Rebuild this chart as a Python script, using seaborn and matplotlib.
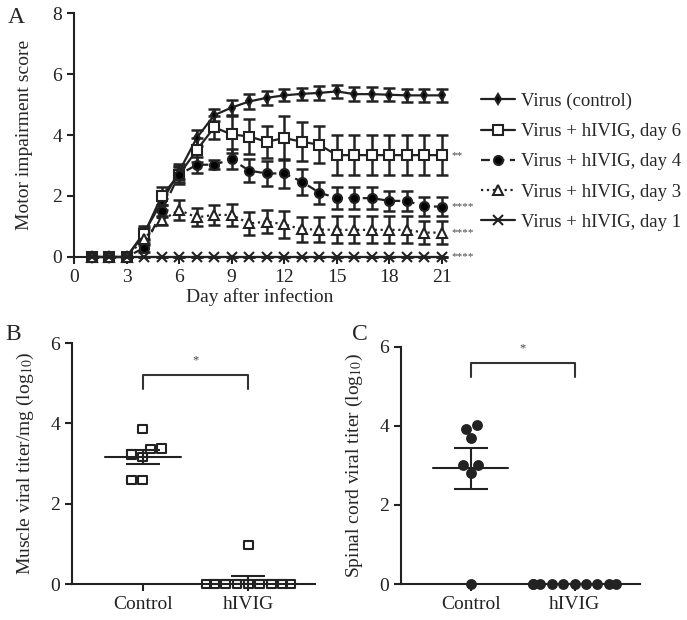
import numpy as np
import pandas as pd
import matplotlib
matplotlib.use('Agg')
import matplotlib.pyplot as plt
import seaborn as sns

# panel A: motor impairment score, mean +/- SEM per day
days = list(range(1, 22))
control = [0, 0, 0, 0.8, 1.8, 2.8, 3.9, 4.65, 4.9, 5.1, 5.22, 5.3, 5.35, 5.38, 5.43,
           5.34, 5.34, 5.32, 5.3, 5.3, 5.3]
control_err = [0, 0, 0, 0.2, 0.25, 0.25, 0.25, 0.2, 0.25, 0.25, 0.22, 0.2, 0.2, 0.22,
               0.22, 0.22, 0.22, 0.22, 0.22, 0.22, 0.22]
day6 = [0, 0, 0, 0.75, 2.0, 2.7, 3.5, 4.25, 4.02, 3.95, 3.78, 3.9, 3.78, 3.68, 3.34,
        3.34, 3.34, 3.34, 3.34, 3.34, 3.34]
day6_err = [0, 0, 0, 0.2, 0.3, 0.3, 0.4, 0.38, 0.6, 0.57, 0.52, 0.72, 0.64, 0.6, 0.65,
            0.65, 0.65, 0.65, 0.65, 0.65, 0.65]
day4 = [0, 0, 0, 0.3, 1.5, 2.7, 3.02, 3.03, 3.2, 2.83, 2.74, 2.74, 2.47, 2.11, 1.93,
        1.93, 1.93, 1.84, 1.84, 1.66, 1.65]
day4_err = [0, 0, 0, 0.15, 0.2, 0.25, 0.27, 0.15, 0.33, 0.38, 0.4, 0.47, 0.43, 0.36,
            0.37, 0.36, 0.36, 0.32, 0.32, 0.31, 0.31]
day3 = [0, 0, 0, 0.6, 1.2, 1.54, 1.3, 1.38, 1.38, 1.1, 1.16, 1.07, 0.91, 0.9, 0.89,
        0.89, 0.89, 0.89, 0.89, 0.8, 0.8]
day3_err = [0, 0, 0, 0.2, 0.15, 0.33, 0.3, 0.33, 0.37, 0.39, 0.38, 0.45, 0.41, 0.4,
            0.44, 0.44, 0.44, 0.44, 0.44, 0.38, 0.38]
day1 = [0] * 21
day1_err = [0] * 21
stars_a = ['', '**', '****', '****', '****']

# panel B: muscle titer, panel C: spinal cord titer
groups = ['Control', 'hIVIG']
muscle_control = [3.86, 3.38, 3.23, 3.16, 3.36, 2.59, 2.59]
muscle_hivig = [0.97, 0, 0, 0, 0, 0, 0, 0, 0, 0]
spinal_control = [4.02, 3.93, 3.68, 3.01, 3.01, 2.8, 0]
spinal_hivig = [0, 0, 0, 0, 0, 0, 0, 0, 0, 0]

sns.set_style('ticks')
plt.rcParams['font.family'] = ['Liberation Serif', 'DejaVu Serif']
plt.rcParams['mathtext.fontset'] = 'stix'
plt.rcParams['axes.linewidth'] = 1.5
plt.rcParams['xtick.major.width'] = 1.5
plt.rcParams['ytick.major.width'] = 1.5
plt.rcParams['xtick.major.size'] = 5
plt.rcParams['ytick.major.size'] = 5
plt.rcParams['xtick.color'] = '#222222'
plt.rcParams['ytick.color'] = '#222222'
plt.rcParams['axes.edgecolor'] = '#222222'
FS = 14

fig = plt.figure(figsize=(6.87, 6.2), dpi=100)

# ---- panel A
axA = fig.add_axes([0.1077, 0.5855, 0.542, 0.3935])
series = [
    ('Virus (control)', control, control_err, 'd', 'k', '-', 5),
    ('Virus + hIVIG, day 6', day6, day6_err, 's', 'white', '-', 7),
    ('Virus + hIVIG, day 4', day4, day4_err, 'o', 'k', (0, (4, 2.5)), 6.5),
    ('Virus + hIVIG, day 3', day3, day3_err, '^', 'white', ':', 7),
    ('Virus + hIVIG, day 1', day1, day1_err, 'x', 'k', '-', 7),
]
for lbl, vals, err, mk, mfc, ls, ms in series:
    axA.errorbar(days, vals, yerr=err, fmt='none', ecolor='#222222', elinewidth=1.8,
                 capsize=4.5, capthick=1.8, zorder=2, clip_on=False)
    sns.lineplot(x=days, y=vals, ax=axA, color='#222222', marker=mk, markersize=ms,
                 markerfacecolor=mfc, markeredgecolor='#222222', markeredgewidth=1.5,
                 linestyle=ls, linewidth=1.6, label=lbl, zorder=3, clip_on=False)
for (lbl, vals, err, mk, mfc, ls, ms), st in zip(series, stars_a):
    if st:
        axA.text(21.55, vals[-1], st, fontsize=8, va='center', ha='left', color='#444444')

axA.set_xlim(0, 21.25)
axA.set_ylim(0, 8)
axA.set_xticks(range(0, 22, 3))
axA.set_yticks(range(0, 9, 2))
axA.tick_params(labelsize=FS)
axA.set_xlabel('Day after infection', fontsize=FS, labelpad=2)
axA.set_ylabel('Motor impairment score', fontsize=FS, labelpad=14)
sns.despine(ax=axA)
h, l = axA.get_legend_handles_labels()
axA.legend_.remove()
fig.legend(h, l, loc='center left', bbox_to_anchor=(0.700, 0.739), frameon=False,
           fontsize=13.5, handlelength=1.8, handletextpad=0.35, labelspacing=0.7,
           borderpad=0, borderaxespad=0)


def scatter_panel(ax, ctrl, treat, marker, filled, ylabel, bracket_y, star_y):
    df = pd.DataFrame({
        'group': [groups[0]] * len(ctrl) + [groups[1]] * len(treat),
        'titer': ctrl + treat,
    })
    sns.swarmplot(data=df, x='group', y='titer', ax=ax, marker=marker, size=6.3,
                  color='#222222', linewidth=1.5, edgecolor='#222222', zorder=3)
    for coll in ax.collections:
        coll.set_clip_on(False)
        if not filled:
            coll.set_facecolor('none')
    for i, vals in enumerate([ctrl, treat]):
        v = np.array(vals)
        m = v.mean()
        sem = v.std(ddof=1) / np.sqrt(len(v))
        ax.plot([i - 0.36, i + 0.36], [m, m], color='#222222', lw=1.5, zorder=2)
        if sem > 0:
            ax.errorbar([i], [m], yerr=[sem], fmt='none', ecolor='#222222', elinewidth=1.5,
                        capsize=12, capthick=1.5, zorder=2)
    ax.plot([0, 0, 1, 1], [bracket_y - 0.36, bracket_y, bracket_y, bracket_y - 0.36],
            color='#333333', lw=1.5)
    ax.text(0.5, star_y, '*', ha='center', va='center', fontsize=9, color='#444444')
    ax.set_xlim(-0.67, 1.63)
    ax.set_ylim(0, 6)
    ax.set_yticks([0, 2, 4, 6])
    ax.set_xlabel('')
    ax.set_ylabel(ylabel, fontsize=FS, labelpad=10)
    ax.tick_params(labelsize=FS)
    sns.despine(ax=ax)


axB = fig.add_axes([0.1048, 0.058, 0.3537, 0.3887])
scatter_panel(axB, muscle_control, muscle_hivig, 's', False,
              'Muscle viral titer/mg (log$_{10}$)', 5.21, 5.58)
axC = fig.add_axes([0.5837, 0.058, 0.348, 0.383])
scatter_panel(axC, spinal_control, spinal_hivig, 'o', True,
              'Spinal cord viral titer (log$_{10}$)', 5.58, 5.96)

fig.text(0.012, 0.972, 'A', fontsize=17, va='center')
fig.text(0.008, 0.46, 'B', fontsize=17, va='center')
fig.text(0.512, 0.46, 'C', fontsize=17, va='center')

fig.savefig('out.png', dpi=100, facecolor='white')
